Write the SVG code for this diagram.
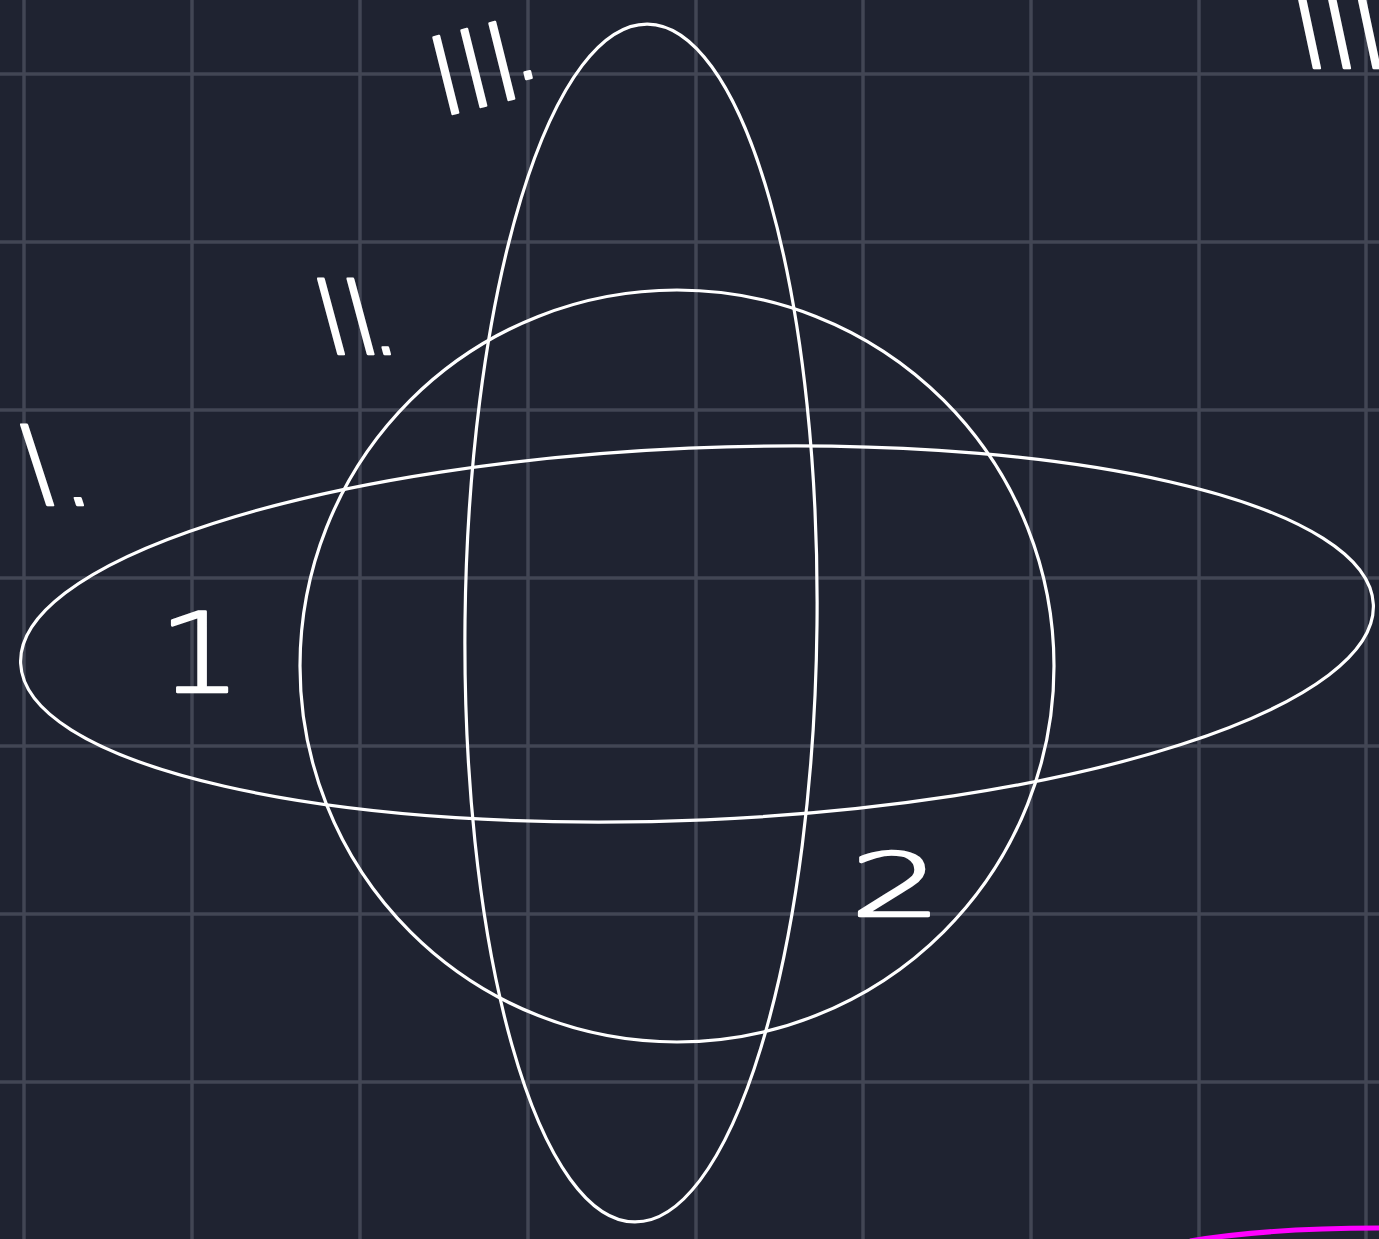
<svg xmlns="http://www.w3.org/2000/svg" width="1379" height="1239" viewBox="0 0 1379 1239">
<style>
.grid{stroke:#424654;stroke-width:3.5;fill:none}
.shape{fill:none;stroke:#ffffff;stroke-width:3.2}
.lbl{font-family:"DejaVu Sans","Liberation Sans",sans-serif;font-weight:200;fill:#ffffff;stroke:#ffffff;stroke-width:2.6;stroke-linejoin:round;stroke-linecap:round}
</style>
<rect x="0" y="0" width="1379" height="1239" fill="#1f2331"/>
<g id="grid" class="grid">
<path d="M24 0V1239M192 0V1239M360 0V1239M528 0V1239M696 0V1239M863 0V1239M1031 0V1239M1199 0V1239M1366 0V1239"/>
<path d="M0 74H1379M0 242H1379M0 410H1379M0 578H1379M0 746H1379M0 914H1379M0 1082H1379"/>
</g>
<g id="ellipse-horizontal"><ellipse class="shape" cx="697" cy="634" rx="677" ry="186" transform="rotate(-2.5 697 634)"/></g>
<g id="circle"><ellipse class="shape" cx="677" cy="666" rx="377" ry="376"/></g>
<g id="ellipse-vertical"><ellipse class="shape" cx="641" cy="623" rx="176" ry="599" transform="rotate(0.62 641 623)"/></g>
<g id="label-I"><text class="lbl" font-size="110" transform="translate(34,505) skewX(18)">I<tspan dx="-4">.</tspan></text></g>
<g id="label-II"><text class="lbl" font-size="103" transform="translate(326,354) skewX(15)" letter-spacing="-1">II<tspan dx="-14">.</tspan></text></g>
<g id="label-III"><text class="lbl" font-size="108" transform="translate(440,117) rotate(-14)" letter-spacing="-3">III<tspan dx="-8" dy="-16">.</tspan></text></g>
<g id="label-III-right"><text class="lbl" font-size="115" transform="translate(1300,68) skewX(12)" letter-spacing="-4">III</text></g>
<g id="label-1"><text class="lbl" font-size="110" transform="translate(158,692) scale(1.2,1)">1</text></g>
<g id="label-2"><text class="lbl" font-size="88" transform="translate(850,916) scale(1.65,1)">2</text></g>
<g id="magenta-stroke"><path d="M1190 1241 Q1270 1228 1379 1228" fill="none" stroke="#ff00ff" stroke-width="5"/></g>
</svg>
